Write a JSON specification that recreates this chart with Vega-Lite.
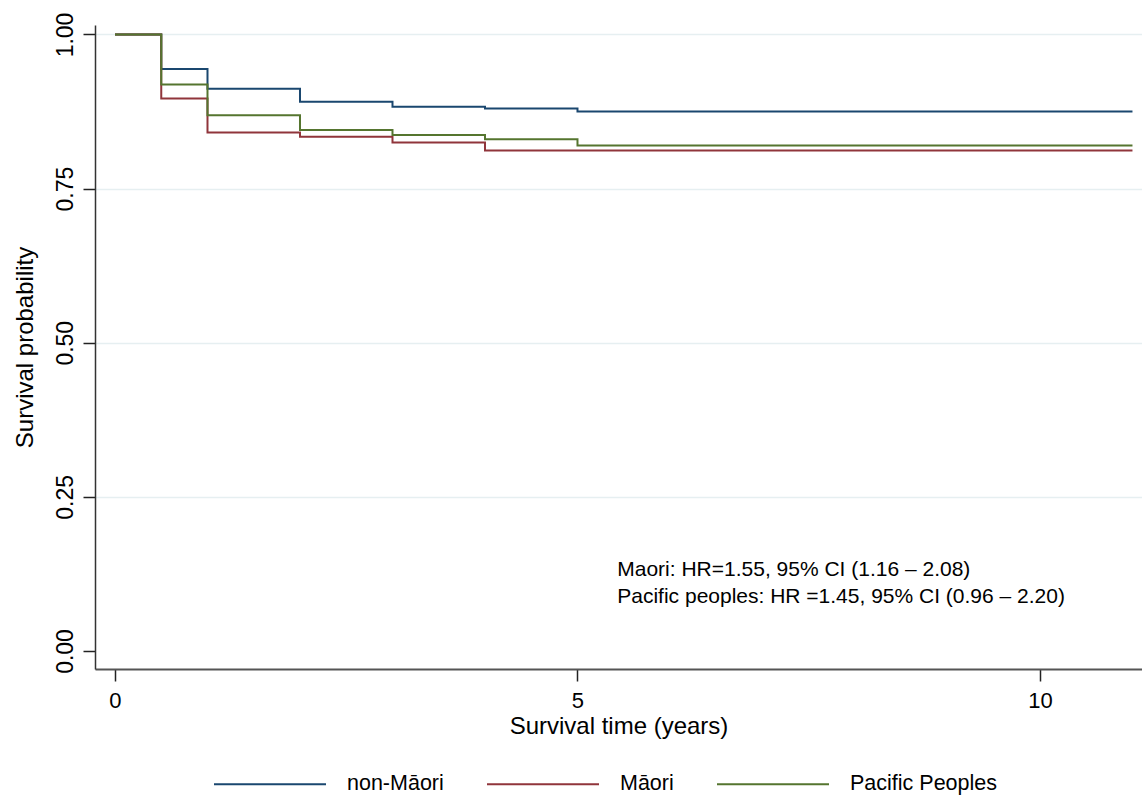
{
  "$schema": "https://vega.github.io/schema/vega-lite/v6.json",
  "width": 1047,
  "height": 644,
  "autosize": {"type": "none"},
  "padding": {"left": 95, "top": 25, "right": 0, "bottom": 127},
  "background": "white",
  "config": {"view": {"stroke": null}, "font": "Liberation Sans"},
  "layer": [
    {
      "data": {
        "values": [
          {"group": "non-Māori", "t": 0, "s": 1},
          {"group": "non-Māori", "t": 0.5, "s": 0.944},
          {"group": "non-Māori", "t": 1, "s": 0.912},
          {"group": "non-Māori", "t": 2, "s": 0.891},
          {"group": "non-Māori", "t": 3, "s": 0.883},
          {"group": "non-Māori", "t": 4, "s": 0.88},
          {"group": "non-Māori", "t": 5, "s": 0.875},
          {"group": "non-Māori", "t": 11, "s": 0.875},
          {"group": "Māori", "t": 0, "s": 1},
          {"group": "Māori", "t": 0.5, "s": 0.896},
          {"group": "Māori", "t": 1, "s": 0.841},
          {"group": "Māori", "t": 2, "s": 0.834},
          {"group": "Māori", "t": 3, "s": 0.825},
          {"group": "Māori", "t": 4, "s": 0.812},
          {"group": "Māori", "t": 5, "s": 0.812},
          {"group": "Māori", "t": 11, "s": 0.812},
          {"group": "Pacific Peoples", "t": 0, "s": 1},
          {"group": "Pacific Peoples", "t": 0.5, "s": 0.919},
          {"group": "Pacific Peoples", "t": 1, "s": 0.869},
          {"group": "Pacific Peoples", "t": 2, "s": 0.845},
          {"group": "Pacific Peoples", "t": 3, "s": 0.837},
          {"group": "Pacific Peoples", "t": 4, "s": 0.83},
          {"group": "Pacific Peoples", "t": 5, "s": 0.82},
          {"group": "Pacific Peoples", "t": 11, "s": 0.82}
        ]
      },
      "mark": {"type": "line", "interpolate": "step-after", "strokeWidth": 2},
      "encoding": {
        "x": {
          "field": "t",
          "type": "quantitative",
          "scale": {"domain": [-0.2162, 11.103], "nice": false, "zero": false},
          "axis": {
            "values": [0, 5, 10],
            "format": "d",
            "title": "Survival time (years)",
            "titleFontSize": 24,
            "titleFontWeight": "normal",
            "titleColor": "#000",
            "titlePadding": 3,
            "labelFontSize": 22,
            "labelColor": "#000",
            "labelPadding": 9,
            "labelFlush": false,
            "tickSize": 12,
            "tickWidth": 1.5,
            "tickColor": "#222",
            "domainColor": "#555",
            "domainWidth": 2,
            "grid": false
          }
        },
        "y": {
          "field": "s",
          "type": "quantitative",
          "scale": {"domain": [-0.0292, 1.0154], "nice": false, "zero": false},
          "axis": {
            "values": [0, 0.25, 0.5, 0.75, 1],
            "format": ".2f",
            "title": "Survival probability",
            "titleFontSize": 24,
            "titleFontWeight": "normal",
            "titleColor": "#000",
            "titlePadding": 17,
            "labelAngle": 270,
            "labelAlign": "center",
            "labelBaseline": "bottom",
            "labelFontSize": 23,
            "labelColor": "#000",
            "labelPadding": 6,
            "labelFlush": false,
            "labelOverlap": false,
            "tickSize": 12,
            "tickWidth": 1.5,
            "tickColor": "#222",
            "domainColor": "#333",
            "domainWidth": 1.5,
            "grid": true,
            "gridColor": "#e6eff1",
            "gridWidth": 1.5,
            "gridOpacity": {"condition": {"test": "datum.value === 0", "value": 0}, "value": 1}
          }
        },
        "color": {
          "field": "group",
          "type": "nominal",
          "scale": {
            "domain": ["non-Māori", "Māori", "Pacific Peoples"],
            "range": ["#1a476f", "#90353b", "#55752f"]
          },
          "legend": {
            "title": null,
            "orient": "none",
            "direction": "horizontal",
            "legendX": 118,
            "legendY": 702,
            "symbolType": "stroke",
            "symbolSize": 12544,
            "symbolStrokeWidth": 2,
            "labelFontSize": 21.5,
            "labelColor": "#000",
            "labelOffset": 20,
            "columnPadding": 39,
            "labelLimit": 400
          }
        }
      }
    },
    {
      "data": {"values": [{}]},
      "mark": {
        "type": "text",
        "text": ["Maori: HR=1.55, 95% CI (1.16 – 2.08)", "Pacific peoples: HR =1.45, 95% CI (0.96 – 2.20)"],
        "align": "left",
        "baseline": "alphabetic",
        "fontSize": 21,
        "lineHeight": 27,
        "color": "#000"
      },
      "encoding": {
        "x": {"datum": 5.43},
        "y": {"datum": 0.121}
      }
    }
  ]
}
